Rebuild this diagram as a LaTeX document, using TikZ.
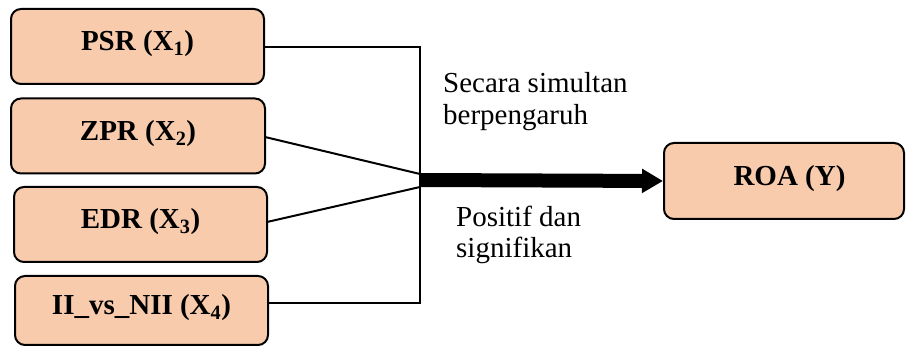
\documentclass[tikz,border=0pt]{standalone}
\usepackage{fontspec}
\setmainfont{Liberation Serif}
\usetikzlibrary{arrows.meta}
\definecolor{peach}{RGB}{248,203,173}
\begin{document}
\begin{tikzpicture}[x=1pt,y=-1pt,
  box/.style={draw=black,line width=2pt,fill=peach,rounded corners=10pt,
    minimum height=75pt,inner sep=0pt,font=\fontsize{29}{33}\selectfont\bfseries,
    text height=20pt,text depth=11pt},
  conn/.style={draw=black,line width=2pt},
  lbl/.style={anchor=base west,inner sep=0pt,font=\fontsize{29}{33}\selectfont}]
\useasboundingbox (0,0) rectangle (906,347);
\node[box,minimum width=253pt] (x1) at (137.5,46.5) {PSR (X\textsubscript{1})};
\node[box,minimum width=254pt] (x2) at (138,136) {ZPR (X\textsubscript{2})};
\node[box,minimum width=253pt] (x3) at (140.5,224.5) {EDR (X\textsubscript{3})};
\node[box,minimum width=253pt,minimum height=69pt] (x4) at (141.5,310.5) {II\_vs\_NII (X\textsubscript{4})};
\node[box,minimum width=240pt,minimum height=76pt] (y) at (784,181) {\hspace{11pt}ROA (Y)};
\coordinate (tr) at (420,47);
\coordinate (br) at (420,303);
\coordinate (j2) at (420,174);
\coordinate (j3) at (420,187);
\coordinate (jc) at (420,180);
\coordinate (s2) at (265,137);
\coordinate (s3) at (267,222);
\draw[conn] (x1.east |- tr) -- (tr) -- (br) -- (x4.east |- br);
\draw[conn] (s2) -- (j2);
\draw[conn] (s3) -- (j3);
\draw[line width=14pt,-{Triangle[length=21pt,width=23pt]}] (jc) -- (y.west);
\node[lbl] (t1) at (443,93) {Secara simultan};
\node[lbl] (t2) at (443,125) {berpengaruh};
\node[lbl] (t3) at (456,227) {Positif dan};
\node[lbl] (t4) at (456,258) {signifikan};
\end{tikzpicture}
\end{document}
